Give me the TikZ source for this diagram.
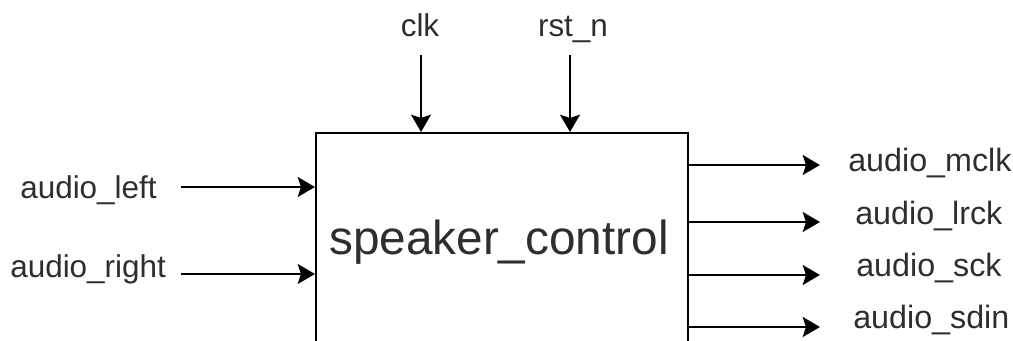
\documentclass[tikz,border=0pt]{standalone}
\usepackage{fontspec}
\setmainfont{Liberation Sans}
\usetikzlibrary{arrows.meta}
\definecolor{labelgray}{HTML}{2E2E2E}
\begin{document}
\begin{tikzpicture}[x=0.75pt,y=-0.75pt,
  sig/.style={font=\fontsize{23.6pt}{28pt}\selectfont, text=labelgray, inner sep=0pt},
  outsig/.style={sig, font=\fontsize{24.2pt}{28pt}\selectfont},
  wire/.style={line width=1.5pt, draw=black,
    -{Stealth[length=13pt,width=15pt,inset=2.5pt]}},
  block/.style={draw=black, line width=1.5pt, minimum width=372*0.75pt,
    minimum height=214*0.75pt, inner sep=0pt}]
  \useasboundingbox (0,0) rectangle (1013,341);
  \clip (0,0) rectangle (1013,341);

  % module block
  \node[block] (ctrl) at (502,240) {};
  \node[sig, font=\fontsize{35.8pt}{42pt}\selectfont, anchor=base] (title) at (499,255) {speaker\_control};

  % clock and reset inputs
  \node[sig, anchor=base] (clk) at (420,37) {clk};
  \node[sig, anchor=base] (rst) at (573,37) {rst\_n};
  \coordinate (clkfrom) at (421,55);
  \coordinate (rstfrom) at (570,55);
  \draw[wire] (clkfrom) -- (clkfrom |- ctrl.north);
  \draw[wire] (rstfrom) -- (rstfrom |- ctrl.north);

  % audio inputs
  \node[sig, anchor=base west] (al) at (20,199) {audio\_left};
  \node[sig, anchor=base west] (ar) at (10,278) {audio\_right};
  \coordinate (alfrom) at (181,187);
  \coordinate (arfrom) at (181,274);
  \draw[wire] (alfrom) -- (alfrom -| ctrl.west);
  \draw[wire] (arfrom) -- (arfrom -| ctrl.west);

  % codec outputs
  \coordinate (mto) at (820,165);
  \coordinate (lto) at (820,222);
  \coordinate (sto) at (820,275);
  \coordinate (dto) at (820,327);
  \draw[wire] (mto -| ctrl.east) -- (mto);
  \draw[wire] (lto -| ctrl.east) -- (lto);
  \draw[wire] (sto -| ctrl.east) -- (sto);
  \draw[wire] (dto -| ctrl.east) -- (dto);
  \node[outsig, anchor=base west] (mclk) at (848,172) {audio\_mclk};
  \node[outsig, anchor=base west] (lrck) at (855,225) {audio\_lrck};
  \node[outsig, anchor=base west] (sck) at (856,277) {audio\_sck};
  \node[outsig, anchor=base west] (sdin) at (853,329) {audio\_sdin};
\end{tikzpicture}
\end{document}
